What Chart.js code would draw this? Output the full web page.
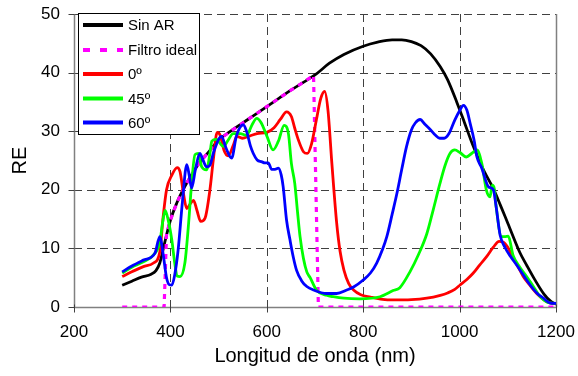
<!DOCTYPE html>
<html><head><meta charset="utf-8">
<script src="https://cdn.jsdelivr.net/npm/chart.js@4.4.0/dist/chart.umd.min.js"></script>
<style>html,body{margin:0;padding:0;background:#fff;}</style>
</head><body>
<canvas id="c" width="578" height="376"></canvas>
<script>
const xTickValues = [200, 400, 600, 800, 1000, 1200];
const yTickValues = [0, 10, 20, 30, 40, 50];
const seriesNames = ['Sin AR', 'Filtro ideal', '0º', '45º', '60º'];
const seriesColors = ['#000000', '#FF00FF', '#FF0000', '#00FF00', '#0000FF'];

const sinArX = [300,320,340,360,370,378,384,390,400,413,425,440,460,480,500,525,550,575,600,625,650,675,700,730,760,800,830,860,880,900,920,940,960,975,994,1010,1028,1050,1070,1085,1100,1125,1140,1155,1175,1190,1200];
const sinArY = [3.7,4.4,5.1,5.6,6.2,7.5,9.5,11.6,14.8,17.7,19.8,22,24.6,26.5,28.5,30,31.4,32.8,34.2,35.6,37,38.3,39.6,41.6,43.1,44.5,45.2,45.6,45.6,45.3,44.6,43.2,41,38.8,35,31.5,27.5,23.3,20.2,17.3,14.3,9.3,7,4.8,2.2,0.9,0.5];

const filtroX = [300,387,392,400,413,425,440,460,480,500,525,550,575,600,625,650,675,697,707,1200];
const filtroY = [0,0,12.5,14.8,17.7,19.8,22,24.6,26.5,28.5,30,31.4,32.8,34.2,35.6,37,38.3,39.5,0,0];

const deg0X = [300,320,344,365,378,385,392,403,414,420,427,434,441,448,455,463,472,482,489,497,504,511,520,530,538,549,565,580,600,615,628,641,651,658,666,676,684,693,703,712,720,727,735,745,752,760,770,780,795,815,840,862,900,932,960,975,990,1001,1015,1028,1042,1056,1070,1082,1090,1100,1112,1125,1132,1145,1160,1181,1200];
const deg0Y = [5.2,6.0,6.9,7.5,9.4,15.4,20,22.5,23.8,23.1,19.4,16.8,17.6,18.2,16.5,14.6,15.2,20,25.1,29.8,29.2,26.8,25.8,27.5,29.1,28.8,29.2,29.6,29.8,30.6,32,33.3,32.5,30.5,28.4,26.5,26.2,27.9,32,35.6,36.8,33.5,24.5,14.3,9.5,6.3,4.0,2.9,2.1,1.7,1.3,1.2,1.25,1.5,2,2.4,3.0,3.75,4.7,5.75,7.2,8.6,10.2,11.2,11.1,10.2,8.2,6.3,5.2,3.8,2.3,0.9,0.5];

const deg45X = [300,320,344,365,378,384,389,395,403,409,414,420,430,437,444,451,458,465,475,482,486,495,510,520,530,545,558,570,579,588,600,613,624,636,645,651,658,664,669,676,683,690,703,724,738,760,793,835,862,876,897,915,932,945,959,970,980,990,1000,1014,1025,1036,1046,1056,1063,1068,1072,1075,1087,1094,1101,1111,1125,1139,1153,1167,1187,1200];
const deg45Y = [5.8,6.8,7.7,8.9,11,14.5,16.5,15,11.4,7.5,5.3,5.2,7.5,13.5,21,26,26.2,23.9,23.4,26.2,28.3,28.6,27.4,28.5,29.6,29.6,29.3,31.2,32.2,31.5,29.2,26.8,28.3,31,29.5,24.5,21.1,16,12,8.3,6.0,5.0,2.9,2.0,1.75,1.5,1.4,1.75,2.8,3.3,6.0,9,12.5,16.5,21,24.2,26.2,26.8,26.4,25.6,26.2,26.8,24.5,19.8,18.8,20.8,20.2,17.7,12,12,12.1,8.8,6.8,5.2,3.5,1.8,0.7,0.6];

const deg60X = [300,320,344,368,378,385,392,398,403,409,416,425,434,439,444,452,461,468,475,482,490,506,516,527,537,551,558,566,572,580,589,596,603,610,617,624,630,634,641,648,655,662,672,683,697,724,745,766,780,800,815,828,840,849,860,870,880,890,900,908,918,928,939,950,959,968,978,990,1000,1008,1015,1022,1030,1036,1046,1060,1070,1076,1084,1094,1105,1118,1132,1146,1160,1174,1187,1200];
const deg60Y = [6.0,7.0,8.0,9.2,12,9,5,3.8,3.75,5.5,9.7,18,24.3,22.5,20.3,23.5,26.2,25,23.9,24.2,26.5,29.1,27,25.4,29.2,31.1,30,27.5,26.2,25.1,24.8,24.6,24.6,23.5,23.5,23.7,22.5,20.5,14.8,11.5,8.5,6.2,4.5,3.5,2.9,2.3,2.3,2.9,3.4,4.6,5.8,7.5,9.8,12,15.8,19.4,23.5,27.4,30.2,31.4,32,31.2,30.3,29.3,28.8,28.8,29.6,31.9,33.5,34.4,33.6,31.3,28.5,25.6,23.7,20.5,20.0,17,12.3,10.2,8.7,7.2,5.5,3.8,2.4,1.5,0.7,0.6];

const pairs = (xs, ys) => xs.map((x, i) => ({x, y: ys[i]}));
const FONT = 'Liberation Sans, Arial, sans-serif';

const seriesData = [pairs(sinArX, sinArY), pairs(filtroX, filtroY), pairs(deg0X, deg0Y), pairs(deg45X, deg45Y), pairs(deg60X, deg60Y)];

const datasets = seriesData.map((d, i) => ({
  label: seriesNames[i],
  data: d,
  borderColor: seriesColors[i],
  backgroundColor: seriesColors[i],
  borderWidth: i === 1 ? 3.2 : 2.8,
  borderDash: i === 1 ? [5, 5] : [],
  pointRadius: 0,
  fill: false,
  tension: i === 1 ? 0 : 0.4,
  cubicInterpolationMode: i === 1 ? 'default' : 'monotone',
  order: 5 - i
}));

const gridPlugin = {
  id: 'gridPlugin',
  beforeDatasetsDraw(chart) {
    const {ctx, chartArea: a, scales: {x, y}} = chart;
    ctx.save();
    ctx.strokeStyle = '#404040';
    ctx.lineWidth = 1;
    ctx.setLineDash([8, 5]);
    xTickValues.forEach(v => {
      if (v === xTickValues[0] || v === xTickValues[xTickValues.length - 1]) return;
      const px = Math.round(x.getPixelForValue(v)) + 0.5;
      ctx.beginPath(); ctx.moveTo(px, a.top); ctx.lineTo(px, a.bottom); ctx.stroke();
    });
    yTickValues.forEach(v => {
      if (v === yTickValues[0]) return;
      const py = Math.round(y.getPixelForValue(v)) + 0.5;
      ctx.beginPath(); ctx.moveTo(a.left, py); ctx.lineTo(a.right, py); ctx.stroke();
    });
    ctx.setLineDash([]);
    ctx.strokeStyle = '#808080';
    ctx.lineWidth = 1.5;
    const L = Math.round(a.left) + 0.5, R = Math.round(a.right) + 0.5, B = Math.round(a.bottom) + 0.5, T = Math.round(a.top);
    ctx.beginPath(); ctx.moveTo(L, T); ctx.lineTo(L, B); ctx.lineTo(R, B); ctx.stroke();
    ctx.beginPath(); ctx.moveTo(R, T); ctx.lineTo(R, B); ctx.stroke();
    ctx.strokeStyle = '#404040';
    ctx.lineWidth = 1;
    yTickValues.forEach(v => {
      const py = Math.round(y.getPixelForValue(v)) + 0.5;
      ctx.beginPath(); ctx.moveTo(L - 6, py); ctx.lineTo(L, py); ctx.stroke();
    });
    xTickValues.forEach(v => {
      const px = Math.round(x.getPixelForValue(v)) + 0.5;
      ctx.beginPath(); ctx.moveTo(px, B - 3); ctx.lineTo(px, B + 5); ctx.stroke();
    });
    ctx.restore();
  }
};

const legendPlugin = {
  id: 'boxLegend',
  afterDatasetsDraw(chart) {
    const {ctx} = chart;
    const bx = 78.5, by = 13.5, bw = 121, bh = 121;
    ctx.save();
    ctx.fillStyle = '#fff';
    ctx.fillRect(bx, by, bw, bh);
    ctx.strokeStyle = '#000';
    ctx.lineWidth = 1;
    ctx.strokeRect(bx, by, bw, bh);
    const rowY = [25, 50, 74, 98.5, 122.5];
    chart.data.datasets.forEach((ds, i) => {
      const yy = rowY[i];
      ctx.strokeStyle = ds.borderColor;
      ctx.lineWidth = 4;
      ctx.setLineDash(i === 1 ? [7, 10] : []);
      ctx.beginPath(); ctx.moveTo(83, yy); ctx.lineTo(123, yy); ctx.stroke();
      ctx.setLineDash([]);
      ctx.fillStyle = '#000';
      ctx.font = '15px ' + FONT;
      ctx.textBaseline = 'middle';
      ctx.textAlign = 'left';
      ctx.fillText(ds.label, 128, yy + 1);
    });
    ctx.restore();
  }
};

new Chart(document.getElementById('c'), {
  type: 'line',
  data: {datasets},
  options: {
    responsive: false,
    animation: false,
    devicePixelRatio: 1,
    layout: {padding: {left: 0, right: 22, top: 14, bottom: 0}},
    plugins: {legend: {display: false}, tooltip: {enabled: false}},
    elements: {point: {radius: 0}},
    scales: {
      x: {
        type: 'linear', min: 200, max: 1200,
        ticks: {stepSize: 200, color: '#000', font: {family: FONT, size: 17}, padding: 1, maxRotation: 0, autoSkip: false, callback: v => String(v)},
        grid: {display: false, drawTicks: true, tickLength: 14},
        border: {display: false},
        title: {display: true, text: 'Longitud de onda (nm)', color: '#000', font: {family: FONT, size: 20}, padding: {top: 0, bottom: 8}},
        afterFit(s) { s.height = 69; }
      },
      y: {
        type: 'linear', min: 0, max: 50,
        ticks: {stepSize: 10, color: '#000', font: {family: FONT, size: 17}, padding: 0, callback: v => String(v)},
        grid: {display: false, drawTicks: true, tickLength: 14},
        border: {display: false},
        title: {display: true, text: 'RE', color: '#000', font: {family: FONT, size: 20}, padding: {top: 8, bottom: 0}},
        afterFit(s) { s.width = 74; }
      }
    }
  },
  plugins: [gridPlugin, legendPlugin]
});
</script>
</body></html>
